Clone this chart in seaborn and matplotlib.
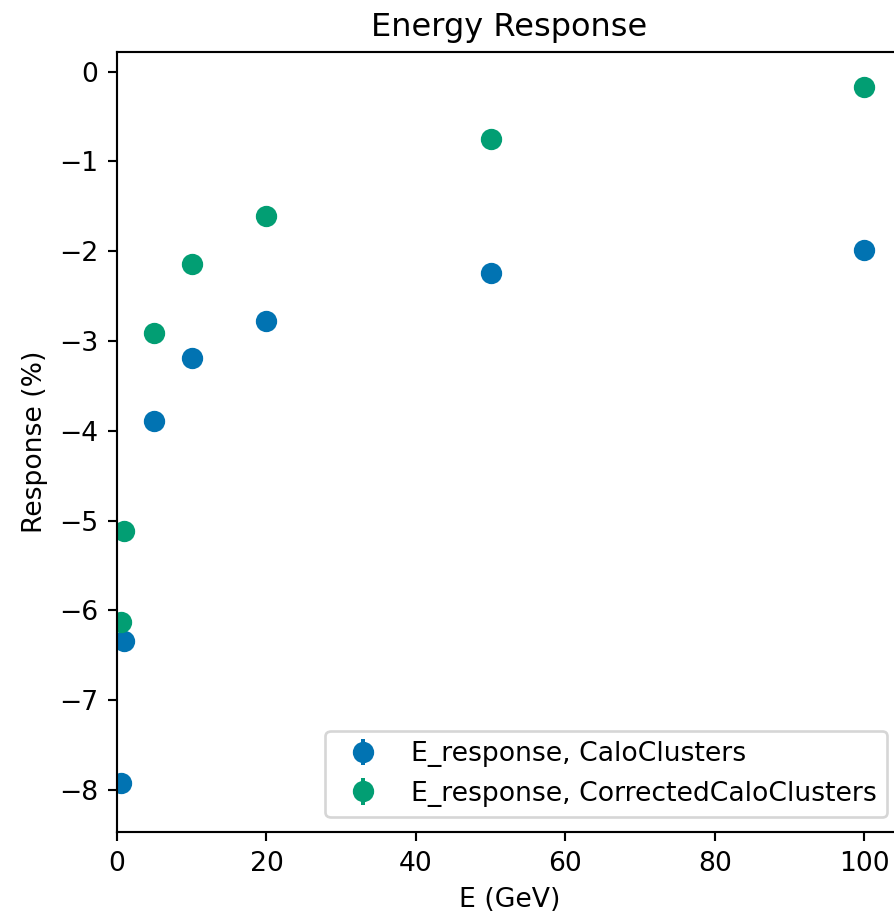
import matplotlib
matplotlib.use("Agg")
import matplotlib.pyplot as plt
import seaborn as sns

# Beam energies (GeV) and mean energy response (%) per cluster collection
energies = [0.5, 1, 5, 10, 20, 50, 100]
calo_response = [-7.92, -6.34, -3.89, -3.19, -2.78, -2.24, -1.99]
calo_err = [0.05, 0.04, 0.03, 0.03, 0.02, 0.02, 0.02]
corr_response = [-6.13, -5.12, -2.91, -2.14, -1.61, -0.75, -0.17]
corr_err = [0.05, 0.04, 0.03, 0.03, 0.02, 0.02, 0.02]

series_labels = ["E_response, CaloClusters", "E_response, CorrectedCaloClusters"]

palette = sns.color_palette("colorblind")
colors = [palette[0], palette[2]]

DPI = 192
fig = plt.figure(figsize=(894 / DPI, 918 / DPI), dpi=DPI)
ax = fig.add_axes([0.1309, 0.0937, 0.8777, 0.8497])

for y, err, lab, col in zip([calo_response, corr_response], [calo_err, corr_err],
                            series_labels, colors):
    ax.errorbar(energies, y, yerr=err, fmt="o", color=col, markersize=7, label=lab)

ax.set_xlim(0, 105)
ax.set_ylim(-8.47, 0.22)
ax.set_xlabel("E (GeV)")
ax.set_ylabel("Response (%)")
ax.set_title("Energy Response")
ax.legend(loc="lower right", borderaxespad=0.55)

fig.savefig("out.png", dpi=DPI)
